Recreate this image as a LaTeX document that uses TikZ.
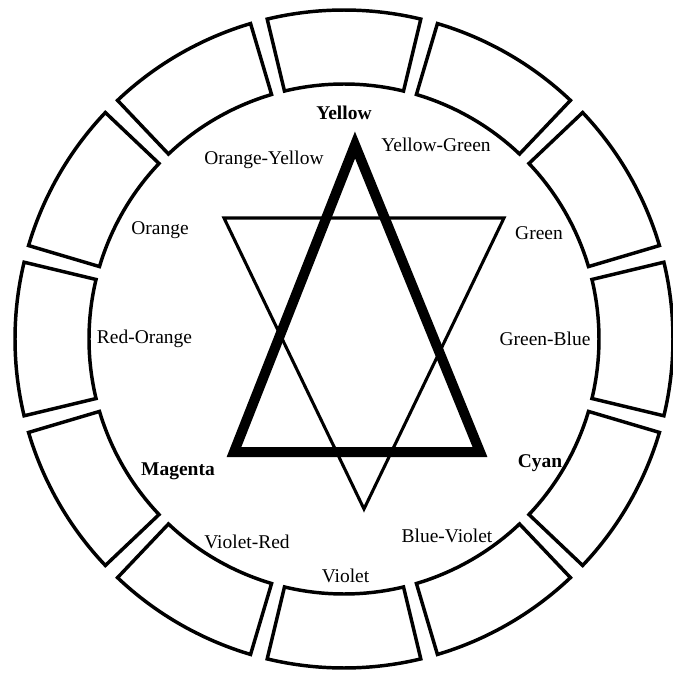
\documentclass[tikz,border=0pt]{standalone}
\usepackage{fontspec}
\setmainfont{Liberation Serif}

\begin{document}
\begin{tikzpicture}[x=0.75pt,y=0.75pt,
  wheelbox/.style={draw=black,line width=2.6pt},
  huename/.style={anchor=base,font=\fontsize{14.6}{16}\selectfont},
  primaryname/.style={anchor=base,font=\fontsize{14.6}{16}\selectfont\bfseries}]

% Frame (centre of the wheel at the origin)
\useasboundingbox (-344,-336) rectangle (328,339);

%-------------------------------------------------------------------
% Ring of twelve boxes
\foreach \a in {90,60,...,-240}{
    \draw[wheelbox]
      (\a-13.5:255) arc[start angle=\a-13.5,end angle=\a+13.5,radius=255]
      -- (\a+13.5:329) arc[start angle=\a+13.5,end angle=\a-13.5,radius=329]
      -- cycle;
}

%-------------------------------------------------------------------
% Star: primaries (thick) and secondaries (thin)
\coordinate (yellow tip)  at (11,194);
\coordinate (magenta tip) at (-110,-113);
\coordinate (cyan tip)    at (136,-113);
\coordinate (orange tip)  at (-120,121);
\coordinate (green tip)   at (160,121);
\coordinate (violet tip)  at (20,-170);

\draw[line width=7.5pt] (yellow tip)--(magenta tip)--(cyan tip)--cycle;
\draw[line width=2.3pt] (orange tip)--(green tip)--(violet tip)--cycle;

%-------------------------------------------------------------------
% Names of the hues
\node[primaryname] (yellow)  at (0,219)      {Yellow};
\node[primaryname] (magenta) at (-166,-136)  {Magenta};
\node[primaryname] (cyan)    at (196,-128)   {Cyan};

\node[huename] (orange yellow) at (-80,174)   {Orange-Yellow};
\node[huename] (yellow green)  at (92,187)    {Yellow-Green};
\node[huename] (orange)        at (-184,104)  {Orange};
\node[huename] (green)         at (195,99)    {Green};
\node[huename] (red orange)    at (-199.5,-4) {Red-Orange};
\node[huename] (green blue)    at (201,-6)    {Green-Blue};
\node[huename] (violet red)    at (-97,-209)  {Violet-Red};
\node[huename] (blue violet)   at (103,-203)  {Blue-Violet};
\node[huename] (violet)        at (1.5,-243)  {Violet};

\end{tikzpicture}
\end{document}
